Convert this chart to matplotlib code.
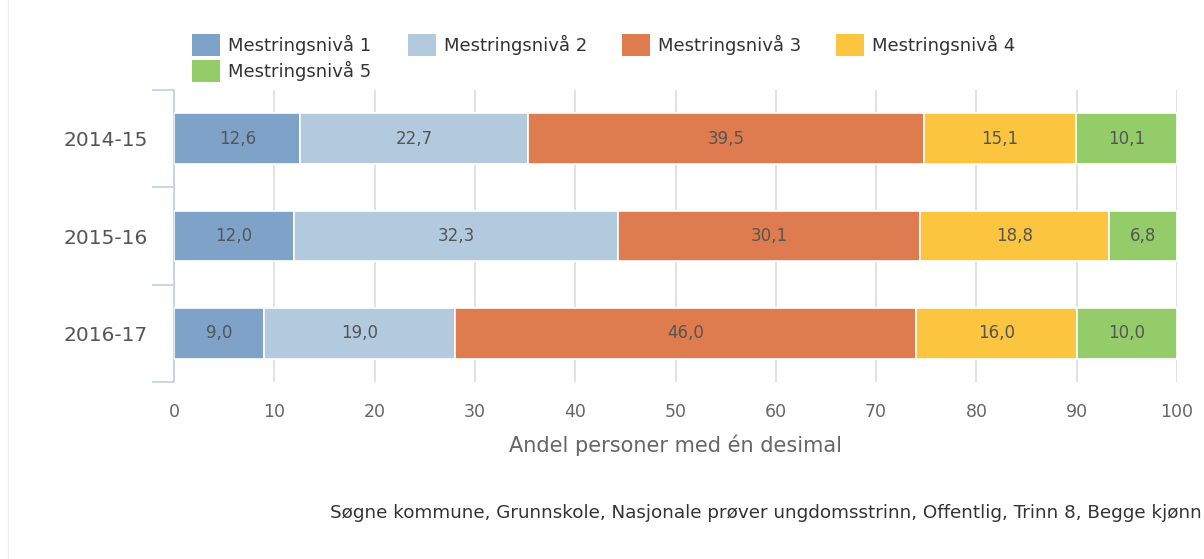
import matplotlib
matplotlib.use("Agg")
import matplotlib.pyplot as plt
from matplotlib.patches import Rectangle
from matplotlib.lines import Line2D
import numpy as np

plt.rcParams['font.family'] = ['DejaVu Sans']

years = ["2014-15", "2015-16", "2016-17"]
series_names = ["Mestringsnivå 1", "Mestringsnivå 2", "Mestringsnivå 3",
                "Mestringsnivå 4", "Mestringsnivå 5"]
niva1 = [12.6, 12.0, 9.0]
niva2 = [22.7, 32.3, 19.0]
niva3 = [39.5, 30.1, 46.0]
niva4 = [15.1, 18.8, 16.0]
niva5 = [10.1, 6.8, 10.0]
colors = ["#7fa3c8", "#b3c9de", "#df7c4f", "#fcc53f", "#95cc6a"]
x_ticks = [0, 10, 20, 30, 40, 50, 60, 70, 80, 90, 100]
x_label = "Andel personer med én desimal"
footer = "Søgne kommune, Grunnskole, Nasjonale prøver ungdomsstrinn, Offentlig, Trinn 8, Begge kjønn"

W, H = 1204, 559
fig = plt.figure(figsize=(W / 100, H / 100), dpi=100)
ax = fig.add_axes([174 / W, 1 - 382 / H, (1177 - 174) / W, (382 - 90) / H])

data = [niva1, niva2, niva3, niva4, niva5]
ypos = np.arange(len(years))
left = np.zeros(len(years))
for vals, col in zip(data, colors):
    vals = np.array(vals)
    bars = ax.barh(ypos, vals, left=left, height=0.52, color=col,
                   edgecolor="white", linewidth=1.2, zorder=3)
    for b, v in zip(bars, vals):
        ax.text(b.get_x() + b.get_width() / 2, b.get_y() + b.get_height() / 2,
                f"{v:.1f}".replace(".", ","), ha="center", va="center",
                fontsize=12, color="#555555", zorder=4)
    left = left + vals

ax.set_xlim(0, 100)
ax.set_ylim(2.5, -0.5)
ax.set_xticks(x_ticks)
ax.set_xticklabels([str(t) for t in x_ticks], fontsize=12.5, color="#666666")
ax.tick_params(axis="x", length=0, pad=15)
ax.xaxis.grid(True, color="#dddddd", linewidth=1.2, zorder=0)
ax.set_axisbelow(True)

ax.set_yticks(ypos)
ax.set_yticklabels(years, fontsize=14.5, color="#555555")
ax.tick_params(axis="y", length=0, pad=19)
ax.set_yticks([-0.5, 0.5, 1.5, 2.5], minor=True)
ax.tick_params(axis="y", which="minor", length=16, width=1.2, color="#c0d0e0")

for s in ["top", "right", "bottom"]:
    ax.spines[s].set_visible(False)
ax.spines["left"].set_color("#c0d0e0")
ax.spines["left"].set_linewidth(1.2)

ax.set_xlabel(x_label, fontsize=15, color="#666666", labelpad=9.5)

# legend
leg_x = [192, 408, 622, 836, 192]
leg_y = [45, 45, 45, 45, 71]
for name, col, lx, ly in zip(series_names, colors, leg_x, leg_y):
    fig.add_artist(Rectangle((lx / W, 1 - (ly + 11) / H), 28 / W, 22 / H,
                             transform=fig.transFigure, facecolor=col,
                             edgecolor="none"))
    fig.text((lx + 36) / W, 1 - ly / H, name, fontsize=13, color="#333333",
             ha="left", va="center")

fig.text(330 / W, 1 - 513 / H, footer, fontsize=13.2, color="#333333",
         ha="left", va="center")

# faint container border on left
fig.add_artist(Line2D([8 / W, 8 / W], [0, 1], transform=fig.transFigure,
                      color="#eeeeee", linewidth=1))

fig.savefig("out.png", dpi=100, facecolor="white")
